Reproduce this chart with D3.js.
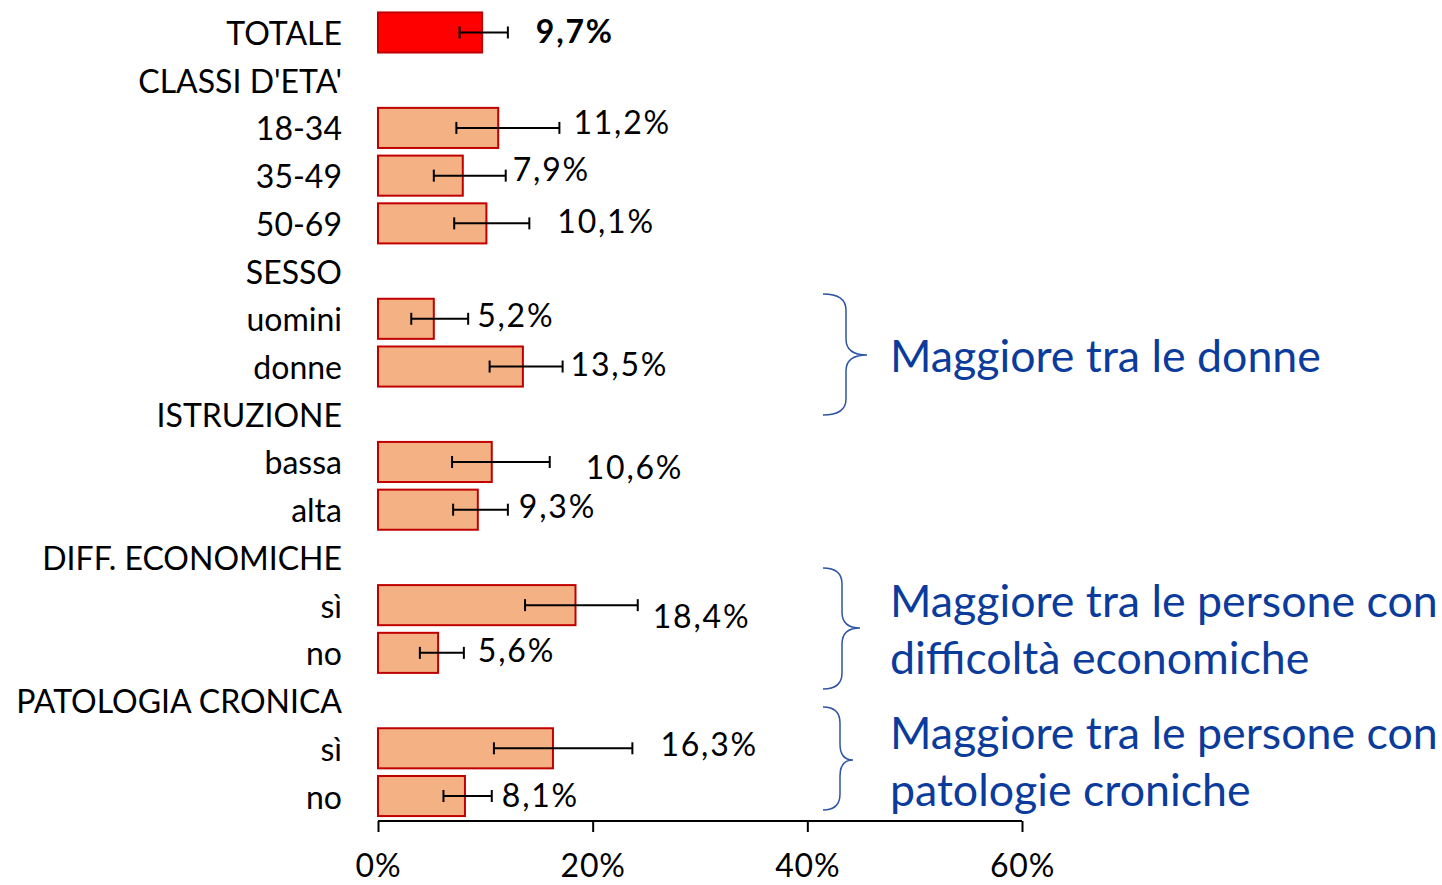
<!DOCTYPE html>
<html>
<head>
<meta charset="utf-8">
<script src="https://cdn.jsdelivr.net/npm/d3@7"></script>
<style>
  body { margin: 0; background: #fff; }
  svg { font-family: Lato, "Open Sans", sans-serif; }
</style>
</head>
<body>
<svg width="1442" height="885"></svg>
<script>
// Data
const categories = ["TOTALE", "CLASSI D'ETA'", "18-34", "35-49", "50-69", "SESSO", "uomini", "donne",
    "ISTRUZIONE", "bassa", "alta", "DIFF. ECONOMICHE", "sì", "no", "PATOLOGIA CRONICA", "sì", "no"];
const values = [9.7, null, 11.2, 7.9, 10.1, null, 5.2, 13.5, null, 10.6, 9.3, null, 18.4, 5.6, null, 16.3, 8.1];
const ciLow  = [7.6, null, 7.3, 5.2, 7.1, null, 3.1, 10.4, null, 6.9, 7.0, null, 13.7, 3.9, null, 10.8, 6.1];
const ciHigh = [12.1, null, 16.9, 11.9, 14.1, null, 8.4, 17.2, null, 16.0, 12.1, null, 24.2, 8.0, null, 23.7, 10.6];
const xTicks = [0, 20, 40, 60];
const notes = [
    { lines: ["Maggiore tra le donne"], top: 294, bottom: 415, tip: 355 },
    { lines: ["Maggiore tra le persone con", "difficoltà economiche"], top: 568, bottom: 689, tip: 628 },
    { lines: ["Maggiore tra le persone con", "patologie croniche"], top: 707, bottom: 810, tip: 760 }
];
// label nudges (px) relative to end of the error bar, as placed in the original
const labelDx = [28, 0, 14, 7, 28, 0, 9, 8, 0, 36, 11, 0, 15, 14, 0, 28, 10];
const labelDy = [-2, 0, -6, -7, -3, 0, -4, -3, 0, 5, -4, 0, 10, -3, 0, -5, -2];

const svg = d3.select("svg");
const fs = 32;

const x = d3.scaleLinear().domain([0, 60]).range([378, 1022]);
const y = d3.scaleBand().domain(d3.range(categories.length)).range([4.8, 823.7]).padding(0.16);

// Category labels
svg.append("g").selectAll("text")
    .data(categories)
    .join("text")
    .attr("x", 342)
    .attr("y", (d, i) => y(i) + y.bandwidth() / 2)
    .attr("text-anchor", "end")
    .attr("dominant-baseline", "central")
    .attr("font-size", fs)
    .attr("fill", "#000")
    .text(d => d);

const rows = values.map((v, i) => ({ i, v, lo: ciLow[i], hi: ciHigh[i] })).filter(d => d.v !== null);

// Bars
svg.append("g").selectAll("rect")
    .data(rows)
    .join("rect")
    .attr("x", x(0))
    .attr("y", d => y(d.i))
    .attr("width", d => x(d.v) - x(0))
    .attr("height", y.bandwidth())
    .attr("fill", d => d.i === 0 ? "#FF0000" : "#F4B183")
    .attr("stroke", "#C00000")
    .attr("stroke-width", 2);

// Error bars
const err = svg.append("g").attr("stroke", "#000").attr("stroke-width", 2);
rows.forEach(d => {
    const cy = y(d.i) + y.bandwidth() / 2;
    err.append("line").attr("x1", x(d.lo)).attr("x2", x(d.hi)).attr("y1", cy).attr("y2", cy);
    err.append("line").attr("x1", x(d.lo)).attr("x2", x(d.lo)).attr("y1", cy - 6).attr("y2", cy + 6);
    err.append("line").attr("x1", x(d.hi)).attr("x2", x(d.hi)).attr("y1", cy - 6).attr("y2", cy + 6);
});

// Value labels
svg.append("g").selectAll("text")
    .data(rows)
    .join("text")
    .attr("x", d => x(d.hi) + labelDx[d.i])
    .attr("y", d => y(d.i) + y.bandwidth() / 2 + labelDy[d.i])
    .attr("dominant-baseline", "central")
    .attr("font-size", fs)
    .attr("letter-spacing", 1.8)
    .attr("font-weight", d => d.i === 0 ? "bold" : "normal")
    .attr("fill", "#000")
    .text(d => d3.format(".1f")(d.v).replace(".", ",") + "%");

// X axis
const axis = svg.append("g")
    .attr("transform", "translate(0,821)")
    .call(d3.axisBottom(x).tickValues(xTicks).tickSize(11).tickPadding(22).tickFormat(d => d + "%"));
axis.select(".domain").attr("stroke", "#000").attr("stroke-width", 2).attr("d", `M${x(0)},0H${x(60)}`);
axis.selectAll(".tick line").attr("stroke", "#000").attr("stroke-width", 2);
axis.selectAll(".tick text")
    .attr("font-family", "Lato, sans-serif")
    .attr("font-size", fs)
    .attr("letter-spacing", 0.8)
    .attr("fill", "#000");

// Braces and notes
const blue = "#0B3C9C";
const brace = (x0, xv, xt, top, bottom, tip) => {
    const r = 16;
    return `M${x0},${top} Q${xv},${top} ${xv},${top + r} L${xv},${tip - r} Q${xv},${tip} ${xt},${tip}` +
        ` Q${xv},${tip} ${xv},${tip + r} L${xv},${bottom - r} Q${xv},${bottom} ${x0},${bottom}`;
};
notes.forEach((n, k) => {
    const xv = [846, 842, 840][k], xt = [867, 860, 853][k];
    svg.append("path")
        .attr("d", brace(823, xv, xt, n.top, n.bottom, n.tip))
        .attr("fill", "none")
        .attr("stroke", "#2F55A4")
        .attr("stroke-width", 1.5);
    const t = svg.append("text")
        .attr("x", 890)
        .attr("font-size", 44.7)
        .attr("fill", blue);
    const lh = 57;
    const y0 = n.tip - (n.lines.length - 1) * lh / 2;
    n.lines.forEach((line, j) => {
        t.append("tspan")
            .attr("x", 890)
            .attr("y", y0 + j * lh)
            .attr("dominant-baseline", "central")
            .text(line);
    });
});
</script>
</body>
</html>
